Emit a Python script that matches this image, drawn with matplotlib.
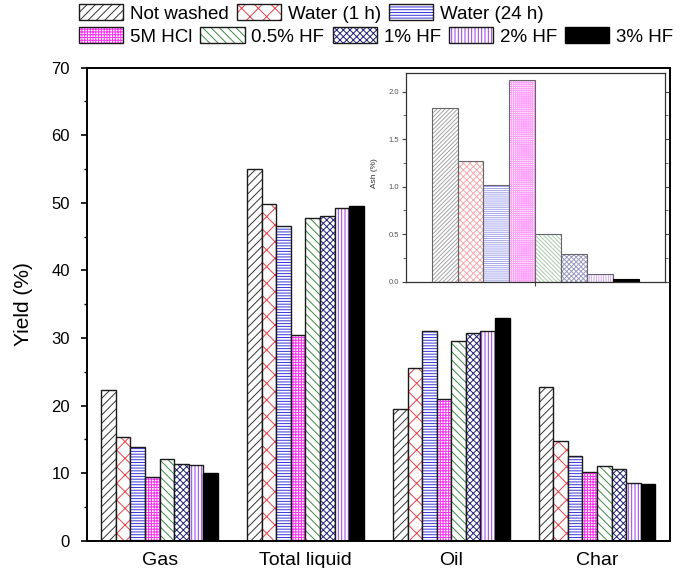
import numpy as np
import matplotlib
matplotlib.use("Agg")
import matplotlib.pyplot as plt
from matplotlib.patches import Patch
from matplotlib.ticker import MultipleLocator, FixedLocator, NullFormatter, FormatStrFormatter

# ---- data -------------------------------------------------------------
categories = ["Gas", "Total liquid", "Oil", "Char"]
treatments = ["Not washed", "Water (1 h)", "Water (24 h)", "5M HCl",
              "0.5% HF", "1% HF", "2% HF", "3% HF"]

gas = [22.3, 15.3, 13.8, 9.4, 12.1, 11.4, 11.2, 10.0]
total_liquid = [55.0, 49.9, 46.6, 30.5, 47.8, 48.1, 49.2, 49.6]
oil = [19.5, 25.6, 31.0, 21.0, 29.5, 30.7, 31.1, 33.0]
char = [22.7, 14.8, 12.6, 10.1, 11.1, 10.6, 8.6, 8.4]

ash = [1.83, 1.27, 1.02, 2.12, 0.50, 0.29, 0.08, 0.03]

# ---- styles -----------------------------------------------------------
hatch_colors = ["#333333", "#e8404a", "#3636d8", "#ff2ef5",
                "#3a8a42", "#20207a", "#9a3ae8", "black"]
hatches = ["////", "xx", "------", "++++++", "\\\\\\\\", "xxxxx", "|||||", None]
inset_hatches = ["/" * 8, "x" * 5, "-" * 8, "+" * 8, "\\" * 8, "x" * 7, "|" * 7, None]

plt.rcParams["font.family"] = ["Liberation Sans", "DejaVu Sans"]
plt.rcParams["hatch.linewidth"] = 0.7

fig = plt.figure(figsize=(6.84, 5.68), dpi=100)
ax = fig.add_axes([0.1268, 0.0481, 0.8527, 0.8327])

yields = np.array([gas, total_liquid, oil, char])
x = np.arange(len(categories))
width = 0.1


def draw_bars(axis, pos, vals, hc, h, edge, lw):
    if h is None:
        axis.bar(pos, vals, width, color=hc, edgecolor=hc, linewidth=lw)
    else:
        axis.bar(pos, vals, width, color="white", edgecolor=hc, hatch=h, linewidth=0)
        axis.bar(pos, vals, width, fill=False, edgecolor=edge, linewidth=lw)


for i in range(len(treatments)):
    draw_bars(ax, x + (i - 3.5) * width, yields[:, i],
              hatch_colors[i], hatches[i], "#1a1a1a", 1.0)

ax.set_xlim(-0.5, 3.5)
ax.set_ylim(0, 70)
ax.set_xticks(x)
ax.set_xticklabels(categories, fontsize=14)
ax.yaxis.set_major_locator(MultipleLocator(10))
ax.yaxis.set_minor_locator(MultipleLocator(5))
ax.tick_params(axis="y", which="major", direction="out", length=4.5, width=1.2,
               labelsize=12, pad=7.5)
ax.tick_params(axis="y", which="minor", direction="out", length=2.5, width=1.0)
ax.tick_params(axis="x", length=0, pad=8)
for s in ax.spines.values():
    s.set_linewidth(1.4)
ax.set_ylabel("Yield (%)", fontsize=15)
ax.yaxis.set_label_coords(-0.092, 0.5)

# ---- legend (two rows) ------------------------------------------------
def handle(i):
    if hatches[i] is None:
        return Patch(facecolor="black", edgecolor="black", linewidth=1)
    return (Patch(facecolor="white", edgecolor=hatch_colors[i], hatch=hatches[i], linewidth=0),
            Patch(facecolor="none", edgecolor="#1a1a1a", linewidth=1))

legend_kw = dict(frameon=False, fontsize=13.5, handlelength=2.35, handleheight=0.95,
                 handletextpad=0.37, columnspacing=0.43, borderpad=0, borderaxespad=0,
                 loc="upper left")
fig.legend([handle(i) for i in range(3)], treatments[:3], ncol=3,
           bbox_to_anchor=(79 / 684, 1 - 4 / 568), **legend_kw)
fig.legend([handle(i) for i in range(3, 8)], treatments[3:], ncol=5,
           bbox_to_anchor=(79 / 684, 1 - 27 / 568), **legend_kw)

# ---- inset: ash content ----------------------------------------------
axin = fig.add_axes([0.5931, 0.5040, 0.3791, 0.3680])
for i in range(len(treatments)):
    draw_bars(axin, [(i - 3.5) * width], [ash[i]], hatch_colors[i],
              inset_hatches[i], "#666666", 0.8)
for b in axin.patches:
    if b.get_hatch():
        b.set_alpha(0.45)

axin.set_xlim(-0.5, 0.5)
axin.set_ylim(0, 2.2)
axin.xaxis.set_major_locator(FixedLocator([0]))
axin.xaxis.set_major_formatter(NullFormatter())
axin.yaxis.set_major_locator(MultipleLocator(0.5))
axin.yaxis.set_minor_locator(MultipleLocator(0.25))
axin.yaxis.set_major_formatter(FormatStrFormatter("%.1f"))
axin.tick_params(axis="y", which="both", left=True, right=True, labelsize=5.5,
                 labelcolor="#555555", color="#444444", pad=1.5)
axin.tick_params(axis="y", which="major", length=3, width=0.8, direction="out")
axin.tick_params(axis="y", which="minor", length=2, width=0.6, direction="out")
axin.tick_params(axis="x", length=3, width=0.8, color="#444444", direction="out")
for s in axin.spines.values():
    s.set_linewidth(0.9)
    s.set_color("#333333")
axin.set_ylabel("Ash (%)", fontsize=6, color="#333333")
axin.yaxis.set_label_coords(-0.105, 0.52)

fig.savefig("out.png", dpi=100)
